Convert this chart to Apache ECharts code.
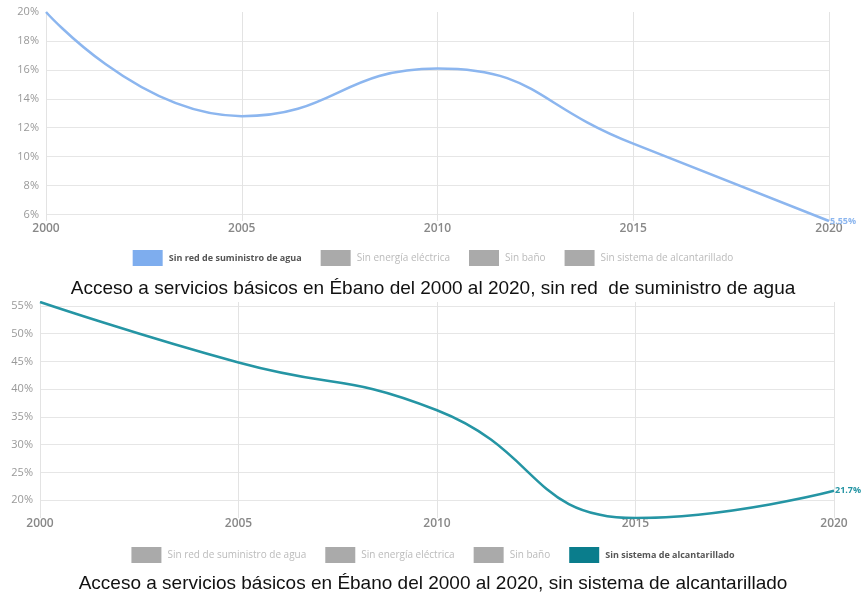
<!DOCTYPE html>
<html>
<head>
<meta charset="utf-8">
<script src="https://cdn.jsdelivr.net/npm/echarts@6/dist/echarts.min.js"></script>
<style>html,body{margin:0;padding:0;background:#fff}#c{width:866px;height:594px}</style>
</head>
<body>
<div id="c"></div>
<script>
const years = ['2000', '2005', '2010', '2015', '2020'];
const sinAgua = [20, 12.8, 16.1, 10.9, 5.55];
const sinAlcantarillado = [55.7, 44.8, 36.2, 16.8, 21.7];
const legendNames = ['Sin red de suministro de agua', 'Sin energía eléctrica', 'Sin baño', 'Sin sistema de alcantarillado'];
const titles = [
  'Acceso a servicios básicos en Ébano del 2000 al 2020, sin red  de suministro de agua',
  'Acceso a servicios básicos en Ébano del 2000 al 2020, sin sistema de alcantarillado'
];

const aguaColor = '#8cb6ef', aguaIcon = '#7eadee';
const alcColor = '#2595a4', alcIcon = '#0a7d8c';
const greyIcon = '#aaaaaa';

function legendData(activeIdx, iconColor) {
  return legendNames.map((n, i) => ({
    name: n,
    itemStyle: { color: i === activeIdx ? iconColor : greyIcon },
    textStyle: i === activeIdx
      ? { color: '#555', fontWeight: 'bold', fontSize: 9 }
      : { color: '#bbb', fontWeight: 'normal', fontSize: 10 }
  }));
}

const axisLabelY = { formatter: '{value}%', color: '#999', fontSize: 11, fontFamily: 'Open Sans', margin: 7 };
const gridLine = { show: true, showMinLine: false, showMaxLine: false, lineStyle: { color: '#e6e6e6', width: 1 } };
const xGridLine = { show: true, lineStyle: { color: '#e3e3e3', width: 1 } };

function mkSeries(gridIdx, activeIdx, values, color) {
  return legendNames.map((n, i) => {
    if (i !== activeIdx) {
      return { name: n, type: 'line', xAxisIndex: gridIdx, yAxisIndex: gridIdx, data: [], itemStyle: { color: greyIcon } };
    }
    return {
      name: n, type: 'line', xAxisIndex: gridIdx, yAxisIndex: gridIdx,
      data: values, smooth: 0.5, showSymbol: false, symbol: 'none',
      lineStyle: { color: color, width: 2.5 },
      itemStyle: { color: color },
      endLabel: {
        show: true, formatter: p => p.value + '%', color: color,
        fontSize: 9, fontWeight: 'bold', fontFamily: 'Open Sans', distance: 1
      },
      silent: true
    };
  });
}

const legendCommon = { left: 'center', itemWidth: 30, itemHeight: 16, itemGap: 19, icon: 'rect', selectedMode: false,
  textStyle: { fontSize: 9, fontFamily: 'Open Sans', padding: [0, 0, 0, 1] } };
const titleStyle = { fontFamily: 'Liberation Sans', fontWeight: 'normal', fontSize: 19, color: '#111' };

const chart = echarts.init(document.getElementById('c'), null, { renderer: 'canvas' });
chart.setOption({
  animation: false,
  title: [
    { text: titles[0], left: 'center', top: 274, textStyle: titleStyle },
    { text: titles[1], left: 'center', top: 569, textStyle: titleStyle }
  ],
  legend: [
    Object.assign({ data: legendData(0, aguaIcon), top: 245 }, legendCommon),
    Object.assign({ data: legendData(3, alcIcon), top: 542 }, legendCommon)
  ],
  grid: [
    { left: 46, right: 37, top: 12, height: 209 },
    { left: 40, right: 32, top: 302, height: 216 }
  ],
  xAxis: [0, 1].map(i => ({
    type: 'category', gridIndex: i, data: years, boundaryGap: false,
    axisLine: { show: false }, axisTick: { show: false },
    axisLabel: { color: '#888', fontSize: 12, fontFamily: 'Open Sans', fontWeight: 600, margin: i === 0 ? 2 : 0 },
    splitLine: xGridLine
  })),
  yAxis: [
    { type: 'value', gridIndex: 0, min: 'dataMin', max: 'dataMax', splitNumber: 7,
      axisLabel: Object.assign({}, axisLabelY, { showMinLabel: false }), axisLine: { show: false }, axisTick: { show: false }, splitLine: gridLine },
    { type: 'value', gridIndex: 1, min: 'dataMin', max: 'dataMax', splitNumber: 8,
      axisLabel: Object.assign({}, axisLabelY, { showMinLabel: false, showMaxLabel: false }), axisLine: { show: false }, axisTick: { show: false }, splitLine: gridLine }
  ],
  series: mkSeries(0, 0, sinAgua, aguaColor).concat(mkSeries(1, 3, sinAlcantarillado, alcColor))
});
</script>
</body>
</html>
